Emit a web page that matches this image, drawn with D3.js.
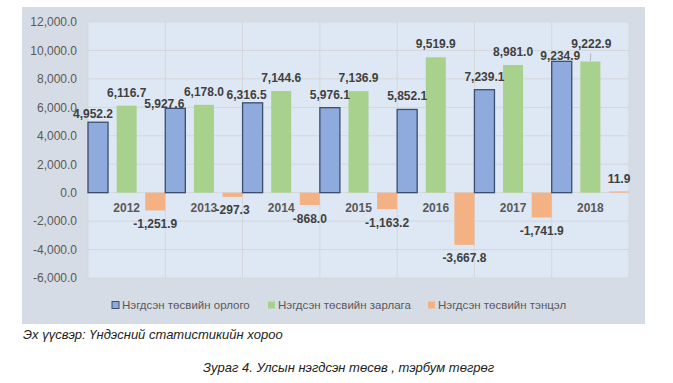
<!DOCTYPE html>
<html>
<head>
    <meta charset="utf-8">
    <title>Улсын нэгдсэн төсөв</title>
    <script src="https://cdn.jsdelivr.net/npm/d3@7"></script>
    <style>
        body { margin: 0; background: #fff; }
        text { font-family: "Liberation Sans", Arial, sans-serif; }
        .tick text { font-size: 12px; fill: #595959; }
        .val { font-size: 12px; font-weight: bold; fill: #404040; text-anchor: middle; }
        .cat { font-size: 12px; font-weight: bold; fill: #595959; text-anchor: middle; }
        .leg { font-size: 11.5px; fill: #595959; }
        .cap { font-size: 13px; font-style: italic; fill: #222; }
    </style>
</head>
<body>
<script>
    var years = ['2012', '2013', '2014', '2015', '2016', '2017', '2018'];
    var seriesNames = ['Нэгдсэн төсвийн орлого', 'Нэгдсэн төсвийн зарлага', 'Нэгдсэн төсвийн тэнцэл'];
    var revenue = [4952.2, 5927.6, 6316.5, 5976.1, 5852.1, 7239.1, 9234.9];
    var expense = [6116.7, 6178.0, 7144.6, 7136.9, 9519.9, 8981.0, 9222.9];
    var balance = [-1251.9, -297.3, -868.0, -1163.2, -3667.8, -1741.9, 11.9];
    var yTicks = [12000, 10000, 8000, 6000, 4000, 2000, 0, -2000, -4000, -6000];
    var colors = ['#8faadc', '#a9d18e', '#f4b183'];

    // labels that were dragged by hand in the original (dx, dy from default spot)
    var labelNudge = {
        '2012-0': [-5, 4.5],
        '2013-0': [-11, 9],
        '2014-0': [-6, 5],
        '2018-0': [-1.5, 7.5],
        '2018-1': [1, -4]
    };

    var width = 673, height = 383;
    var plot = { left: 88, right: 629, top: 22, bottom: 278 };

    var fmt = d3.formatLocale({
        decimal: '.', thousands: ',', grouping: [3], currency: ['', ''], minus: '-'
    }).format(',.1f');

    var svg = d3.select('body').append('svg')
        .attr('width', width)
        .attr('height', height);

    // chart area + plot area backgrounds
    svg.append('rect')
        .attr('x', 22).attr('y', 7)
        .attr('width', 623).attr('height', 317)
        .style('fill', '#d6dce5');

    svg.append('rect')
        .attr('x', plot.left).attr('y', plot.top)
        .attr('width', plot.right - plot.left).attr('height', plot.bottom - plot.top)
        .style('fill', '#dee8f4');

    var x = d3.scaleBand()
        .domain(years)
        .range([plot.left, plot.right])
        .padding(0);

    var x1 = d3.scaleBand()
        .domain([0, 1, 2])
        .range([0, x.bandwidth()])
        .paddingInner(0.3)
        .paddingOuter(0);

    var y = d3.scaleLinear()
        .domain([-6000, 12000])
        .range([plot.bottom, plot.top]);

    // horizontal grid
    svg.append('g')
        .selectAll('line')
        .data(yTicks).enter()
        .append('line')
        .attr('x1', plot.left).attr('x2', plot.right)
        .attr('y1', function(d) { return y(d); })
        .attr('y2', function(d) { return y(d); })
        .style('stroke', '#d4d7db')
        .style('stroke-width', 1);

    // vertical grid at category edges
    var edges = years.map(function(d) { return x(d); }).concat([plot.right]);
    svg.append('g')
        .selectAll('line')
        .data(edges).enter()
        .append('line')
        .attr('x1', function(d) { return d; }).attr('x2', function(d) { return d; })
        .attr('y1', plot.top).attr('y2', plot.bottom)
        .style('stroke', '#d4d7db')
        .style('stroke-width', 1);

    var yax = d3.axisLeft(y)
        .tickValues(yTicks)
        .tickFormat(fmt)
        .tickSize(0)
        .tickPadding(11);

    svg.append('g')
        .classed('y axis', true)
        .attr('transform', 'translate(' + plot.left + ',0)')
        .call(yax)
        .call(function(g) { g.select('.domain').remove(); });

    var rows = [];
    years.forEach(function(yr, i) {
        [revenue[i], expense[i], balance[i]].forEach(function(v, s) {
            rows.push({ year: yr, s: s, v: v, key: yr + '-' + s });
        });
    });

    // tiny values still get a visible sliver, like in Excel
    function barH(d) { return Math.max(1.2, Math.abs(y(d.v) - y(0))); }

    var bars = svg.append('g');
    bars.selectAll('rect')
        .data(rows).enter()
        .append('rect')
        .attr('x', function(d) { return x(d.year) + x1(d.s); })
        .attr('width', x1.bandwidth())
        .attr('y', function(d) { return d.v >= 0 ? y(0) - barH(d) : y(0); })
        .attr('height', barH)
        .style('fill', function(d) { return colors[d.s]; })
        .style('stroke', function(d) { return d.s === 0 ? '#3b4e6e' : 'none'; })
        .style('stroke-width', 1.3);

    // category labels just under the zero line
    svg.append('g')
        .selectAll('text')
        .data(years).enter()
        .append('text')
        .classed('cat', true)
        .attr('x', function(d) { return x(d) + x.bandwidth() / 2; })
        .attr('y', y(0) + 19)
        .text(function(d) { return d; });

    function lx(d) {
        var n = labelNudge[d.key] || [0, 0];
        return x(d.year) + x1(d.s) + x1.bandwidth() / 2 + n[0];
    }
    function ly(d) {
        var n = labelNudge[d.key] || [0, 0];
        return (d.v >= 0 ? y(d.v) - 9 : y(d.v) + 17.5) + n[1];
    }

    // leader line for the label pulled up away from its bar
    svg.append('g')
        .selectAll('line')
        .data(rows.filter(function(d) { return d.key === '2018-1'; })).enter()
        .append('line')
        .attr('x1', function(d) { return lx(d) - 0.5; })
        .attr('x2', function(d) { return lx(d) - 1; })
        .attr('y1', function(d) { return ly(d) + 5; })
        .attr('y2', function(d) { return y(d.v) - 0.5; })
        .style('stroke', '#a6a6a6')
        .style('stroke-width', 0.8);

    // value labels
    svg.append('g')
        .selectAll('text')
        .data(rows).enter()
        .append('text')
        .classed('val', true)
        .attr('x', lx)
        .attr('y', ly)
        .text(function(d) { return fmt(d.v); });

    // legend
    var legX = [112, 268, 428];
    var legend = svg.append('g')
        .selectAll('g')
        .data(seriesNames).enter()
        .append('g')
        .attr('transform', function(d, i) { return 'translate(' + legX[i] + ',305)'; });

    legend.append('rect')
        .attr('x', 0).attr('y', -3.5)
        .attr('width', 7).attr('height', 7)
        .style('fill', function(d, i) { return colors[i]; })
        .style('stroke', function(d, i) { return i === 0 ? '#3b4e6e' : 'none'; });

    legend.append('text')
        .classed('leg', true)
        .attr('x', 10)
        .attr('dy', '0.35em')
        .text(function(d) { return d; });

    svg.append('text')
        .classed('cap', true)
        .attr('x', 23).attr('y', 339)
        .text('Эх үүсвэр: Үндэсний статистикийн хороо');

    svg.append('text')
        .classed('cap', true)
        .attr('x', 203).attr('y', 372)
        .text('Зураг 4. Улсын нэгдсэн төсөв , тэрбум төгрөг');
</script>
</body>
</html>
